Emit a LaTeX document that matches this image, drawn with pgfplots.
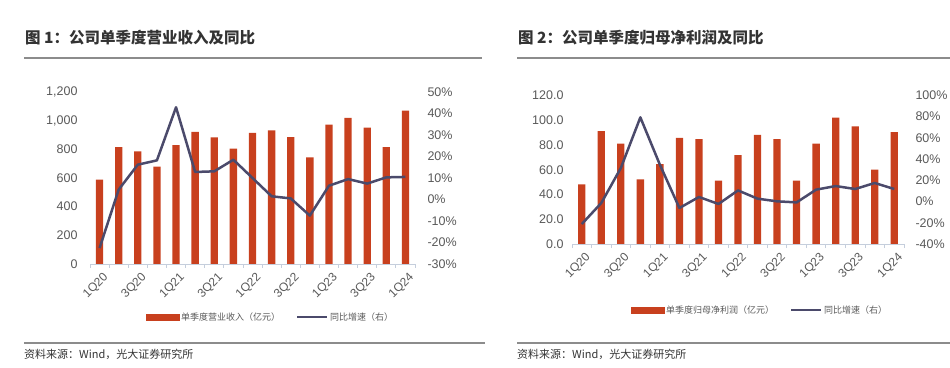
\documentclass[border=0pt]{standalone}
\usepackage{pgfplots}
\pgfplotsset{compat=1.18}
\usepackage{pgfplotstable}
\usepackage{fontspec}
\setmainfont{Liberation Sans}
\newfontfamily\cjk{Noto Sans CJK SC}
\definecolor{barred}{HTML}{C8401E}
\definecolor{linec}{HTML}{4B4A6B}
\definecolor{tickgray}{HTML}{595959}
\definecolor{axisgray}{HTML}{C5CEDC}
\definecolor{rulegray}{HTML}{8C8C8C}
\definecolor{titlegray}{HTML}{333333}

\pgfplotstableread{
x rev yoy
0 588 -22.6
1 816 4.6
2 786 16.2
3 679 18.2
4 830 42.9
5 921 12.8
6 884 13.1
7 805 18.5
8 914 10.0
9 933 1.5
10 886 0.5
11 744 -7.5
12 972 6.4
13 1019 9.5
14 951 7.4
15 816 10.3
16 1070 10.5
}\revtable

\pgfplotstableread{
x np yoy
0 48.2 -21.2
1 91.2 -1.4
2 81.0 31.6
3 52.2 79.3
4 64.6 34.7
5 85.6 -6.1
6 84.7 4.3
7 51.1 -2.3
8 71.8 10.5
9 88.2 2.7
10 84.7 0.2
11 51.1 -0.8
12 81.0 11.2
13 102.0 14.6
14 95.0 11.8
15 60.0 17.5
16 90.4 11.8
}\nptable

\pgfplotsset{
  base/.style={
    scale only axis,
    xmin=-0.5, xmax=16.5,
    /pgf/number format/assume math mode=true,
    tick label style={font=\fontsize{12.5}{12.5}\selectfont, text=tickgray},
    major tick length=0pt,
  },
  barax/.style={
    base,
    axis x line*=bottom,
    axis y line*=left,
    y axis line style={draw=none},
    x axis line style={draw=axisgray, line width=0.8pt},
    xtick={0,2,...,16},
    xticklabels={1Q20,3Q20,1Q21,3Q21,1Q22,3Q22,1Q23,3Q23,1Q24},
    minor xtick={-0.5,0.5,...,16.5},
    minor tick length=4pt,
    tick align=outside,
    minor tick style={draw=axisgray, line width=0.8pt},
    xticklabel style={rotate=45, anchor=north east, font=\fontsize{12}{12}\selectfont, yshift=-4pt},
  },
  lineax/.style={
    base,
    axis x line=none,
    axis y line*=right,
    y axis line style={draw=none},
    yticklabel={\pgfmathprintnumber{\tick}\%},
    legend columns=2,
    legend style={draw=none, fill=none, anchor=center,
      font=\cjk\fontsize{9}{9}\selectfont, text=tickgray,
      /tikz/every even column/.append style={column sep=14pt}},
  },
  barlegend/.style={legend image code/.code={\fill[barred] (0pt,-3pt) rectangle (33pt,3pt);}},
  linelegend/.style={legend image code/.code={\draw[linec, line width=2pt] (0pt,0pt) -- (30pt,0pt);}},
}

\begin{document}
\begin{tikzpicture}
\useasboundingbox (0,0) rectangle (950pt,367pt);

% ---------- titles and rules ----------
\node[anchor=west, inner sep=0, text=titlegray, font=\cjk\bfseries\fontsize{15.5}{15.5}\selectfont] at (25pt,329pt) {图 1：公司单季度营业收入及同比};
\node[anchor=west, inner sep=0, text=titlegray, font=\cjk\bfseries\fontsize{15.5}{15.5}\selectfont] at (518pt,329pt) {图 2：公司单季度归母净利润及同比};
\draw[rulegray, line width=1.5pt] (24pt,309pt) -- (482pt,309pt);
\draw[rulegray, line width=1.5pt] (517pt,309pt) -- (950pt,309pt);
\draw[rulegray, line width=1.5pt] (24pt,24pt) -- (485pt,24pt);
\draw[rulegray, line width=1.5pt] (517pt,24pt) -- (950pt,24pt);
\node[anchor=west, inner sep=0, text=titlegray, font=\cjk\fontsize{11}{11}\selectfont] at (24pt,13pt) {资料来源：Wind，光大证券研究所};
\node[anchor=west, inner sep=0, text=titlegray, font=\cjk\fontsize{11}{11}\selectfont] at (517pt,13pt) {资料来源：Wind，光大证券研究所};

% ---------- chart 1 ----------
\begin{axis}[barax, at={(90pt,103pt)}, anchor=south west, width=325pt, height=172pt,
  ymin=0, ymax=1200, ytick={0,200,...,1200},
  yticklabel style={xshift=-9pt},
  /pgf/number format/1000 sep={,}]
\addplot[ybar, bar width=7.3pt, fill=barred, draw=none] table[x=x,y=rev]{\revtable};
\end{axis}
\begin{axis}[lineax, at={(90pt,103pt)}, anchor=south west, width=325pt, height=172pt,
  ymin=-30, ymax=50, ytick={-30,-20,...,50},
  yticklabel style={xshift=9pt},
  legend style={at={(0.555,-0.31)}}]
\addlegendimage{barlegend}
\addlegendentry{单季度营业收入（亿元）}
\addplot[linec, line width=2.5pt, line join=round, linelegend] table[x=x,y=yoy]{\revtable};
\addlegendentry{同比增速（右）}
\end{axis}

% ---------- chart 2 ----------
\begin{axis}[barax, at={(572pt,123pt)}, anchor=south west, width=332pt, height=148.6pt,
  ymin=0, ymax=120, ytick={0,20,...,120},
  yticklabel style={xshift=-5pt},
  /pgf/number format/.cd, fixed, fixed zerofill, precision=1]
\addplot[ybar, bar width=7.3pt, fill=barred, draw=none] table[x=x,y=np]{\nptable};
\end{axis}
\begin{axis}[lineax, at={(572pt,123pt)}, anchor=south west, width=332pt, height=148.6pt,
  ymin=-40, ymax=100, ytick={-40,-20,...,100},
  yticklabel style={xshift=8pt},
  legend style={at={(0.566,-0.445)}}]
\addlegendimage{barlegend}
\addlegendentry{单季度归母净利润（亿元）}
\addplot[linec, line width=2.5pt, line join=round, linelegend] table[x=x,y=yoy]{\nptable};
\addlegendentry{同比增速（右）}
\end{axis}
\end{tikzpicture}
\end{document}
